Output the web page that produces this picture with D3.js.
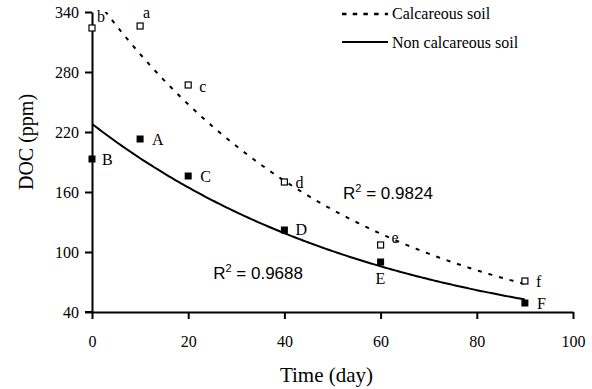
<!DOCTYPE html>
<html>
<head>
<meta charset="utf-8">
<script src="https://cdn.jsdelivr.net/npm/d3@7"></script>
<style>
  body { margin: 0; background: #fff; }
  svg { display: block; }
</style>
</head>
<body>
<div id="chart"></div>
<script>
// sampling days
const days = [0, 10, 20, 40, 60, 90];
// DOC (ppm)
const calcareous = [324, 326, 267, 170, 107, 71];
const nonCalcareous = [193, 213, 176, 122, 90, 49];
const calcLabels = ["b", "a", "c", "d", "e", "f"];
const nonCalcLabels = ["B", "A", "C", "D", "E", "F"];
const xTicks = [0, 20, 40, 60, 80, 100];
const yTicks = [40, 100, 160, 220, 280, 340];
const r2Text = ["0.9824", "0.9688"];

// label offsets (px) from each marker
const calcLabelOffsets = [[5, -6], [3, -8], [11, 7], [11, 6], [11, -2], [11, 6]];
const nonCalcLabelOffsets = [[10, 6], [12, 6], [12, 6], [11, 5], [-5, 22], [12, 6]];

const width = 592, height = 389;
const x = d3.scaleLinear().domain([0, 100]).range([92, 573]);
const y = d3.scaleLinear().domain([40, 340]).range([312, 12]);

const svg = d3.select("#chart").append("svg")
    .attr("width", width)
    .attr("height", height);

const serif = "'Liberation Serif', 'Times New Roman', serif";
const sans = "'Liberation Sans', Arial, sans-serif";

// exponential trend line fitted on log values
function expFit(xs, ys) {
    const ly = ys.map(Math.log);
    const mx = d3.mean(xs), my = d3.mean(ly);
    let sxy = 0, sxx = 0;
    xs.forEach(function (v, i) {
        sxy += (v - mx) * (ly[i] - my);
        sxx += (v - mx) * (v - mx);
    });
    const b = sxy / sxx;
    const a = Math.exp(my - b * mx);
    return function (t) { return a * Math.exp(b * t); };
}

svg.append("clipPath").attr("id", "plotClip")
  .append("rect")
    .attr("x", x(0)).attr("y", y(340))
    .attr("width", x(100) - x(0)).attr("height", y(40) - y(340));

const line = d3.line()
    .x(function (d) { return x(d[0]); })
    .y(function (d) { return y(d[1]); });

const fitDays = d3.range(0, 90.01, 0.5);
const fCalc = expFit(days, calcareous);
const fNon = expFit(days, nonCalcareous);

const plot = svg.append("g").attr("clip-path", "url(#plotClip)");

plot.append("path")
    .attr("d", line(fitDays.map(function (t) { return [t, fCalc(t)]; })))
    .attr("fill", "none")
    .attr("stroke", "#000")
    .attr("stroke-width", 2)
    .attr("stroke-dasharray", "4,7");

plot.append("path")
    .attr("d", line(fitDays.map(function (t) { return [t, fNon(t)]; })))
    .attr("fill", "none")
    .attr("stroke", "#000")
    .attr("stroke-width", 2);

// axes
const yAxis = svg.append("g")
    .attr("transform", "translate(" + x(0) + ",0)")
    .call(d3.axisLeft(y).tickValues(yTicks).tickSize(7).tickSizeOuter(0));
yAxis.select(".domain").attr("stroke-width", 2);
yAxis.selectAll(".tick line").attr("stroke-width", 2);
yAxis.selectAll(".tick text")
    .attr("x", -13)
    .attr("dy", "0.35em")
    .style("font-family", serif)
    .style("font-size", "16px")
    .attr("fill", "#000");

const xAxis = svg.append("g")
    .attr("transform", "translate(0," + y(40) + ")")
    .call(d3.axisBottom(x).tickValues(xTicks).tickSize(7).tickSizeOuter(0));
xAxis.select(".domain").attr("stroke-width", 2);
xAxis.selectAll(".tick line").attr("stroke-width", 2);
xAxis.selectAll(".tick text")
    .attr("y", 35)
    .attr("dy", 0)
    .style("font-family", serif)
    .style("font-size", "16px")
    .attr("fill", "#000");

// extend x axis line to meet the left tick
svg.append("line")
    .attr("x1", x(0) - 7).attr("x2", x(0))
    .attr("y1", y(40)).attr("y2", y(40))
    .attr("stroke", "#000").attr("stroke-width", 2);

svg.append("text")
    .attr("x", (x(0) + x(100)) / 2 - 6)
    .attr("y", 382)
    .attr("text-anchor", "middle")
    .style("font-family", serif)
    .style("font-size", "21px")
    .text("Time (day)");

svg.append("text")
    .attr("transform", "translate(33," + 142 + ") rotate(-90)")
    .attr("text-anchor", "middle")
    .style("font-family", serif)
    .style("font-size", "20px")
    .text("DOC (ppm)");

// markers
const calcData = days.map(function (d, i) { return { x: d, y: calcareous[i], label: calcLabels[i], off: calcLabelOffsets[i] }; });
const nonData = days.map(function (d, i) { return { x: d, y: nonCalcareous[i], label: nonCalcLabels[i], off: nonCalcLabelOffsets[i] }; });

svg.selectAll(".calc").data(calcData).enter().append("rect")
    .attr("class", "calc")
    .attr("x", function (d) { return x(d.x) - 3; })
    .attr("y", function (d) { return y(d.y) - 3; })
    .attr("width", 6).attr("height", 6)
    .attr("fill", "#fff")
    .attr("stroke", "#000")
    .attr("stroke-width", 1.2);

svg.selectAll(".non").data(nonData).enter().append("rect")
    .attr("class", "non")
    .attr("x", function (d) { return x(d.x) - 3.5; })
    .attr("y", function (d) { return y(d.y) - 3.5; })
    .attr("width", 7).attr("height", 7)
    .attr("fill", "#000");

svg.selectAll(".lab").data(calcData.concat(nonData)).enter().append("text")
    .attr("class", "lab")
    .attr("x", function (d) { return x(d.x) + d.off[0]; })
    .attr("y", function (d) { return y(d.y) + d.off[1]; })
    .style("font-family", serif)
    .style("font-size", "16px")
    .text(function (d) { return d.label; });

// R squared annotations
const r2Pos = [[52.2, 153], [25.2, 73]];
r2Text.forEach(function (t, i) {
    const txt = svg.append("text")
        .attr("x", x(r2Pos[i][0]))
        .attr("y", y(r2Pos[i][1]))
        .style("font-family", sans)
        .style("font-size", "17px");
    txt.append("tspan").text("R");
    txt.append("tspan").attr("dy", -7).style("font-size", "11px").text("2");
    txt.append("tspan").attr("dy", 7).text(" = " + t);
});

// legend
const legend = svg.append("g");
legend.append("line")
    .attr("x1", 342).attr("x2", 388).attr("y1", 14).attr("y2", 14)
    .attr("stroke", "#000").attr("stroke-width", 2.5)
    .attr("stroke-dasharray", "4.5,6.2");
legend.append("line")
    .attr("x1", 342).attr("x2", 388).attr("y1", 42).attr("y2", 42)
    .attr("stroke", "#000").attr("stroke-width", 2);
legend.append("text")
    .attr("x", 392).attr("y", 18.5)
    .style("font-family", serif).style("font-size", "16px")
    .text("Calcareous soil");
legend.append("text")
    .attr("x", 392).attr("y", 48)
    .style("font-family", serif).style("font-size", "16px")
    .text("Non calcareous soil");
</script>
</body>
</html>
